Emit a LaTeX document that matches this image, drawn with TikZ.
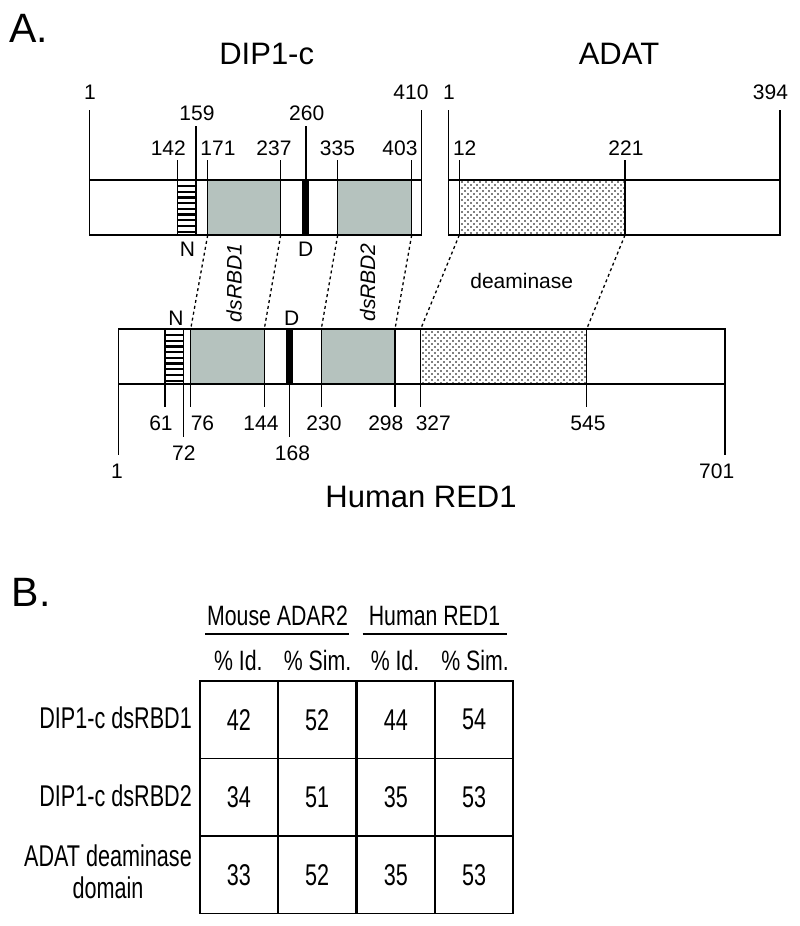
\documentclass[tikz,border=0pt]{standalone}
\usepackage{fontspec}
\setmainfont{Liberation Sans}
\newfontfamily\narrowfont{Liberation Sans}[FakeStretch=0.72]
\newfontfamily\narrowhdr{Liberation Sans}[FakeStretch=0.76]
\usepackage{xcolor}
\usetikzlibrary{patterns, positioning}

\definecolor{rbdgrey}{RGB}{181,194,190}

% staggered dot fill for the deaminase domain
\pgfdeclarepatternformonly{deamdots}{\pgfqpoint{-1pt}{-1pt}}{\pgfqpoint{4pt}{4pt}}{\pgfqpoint{6pt}{6pt}}{%
  \pgfpathcircle{\pgfqpoint{0pt}{0pt}}{0.9pt}%
  \pgfpathcircle{\pgfqpoint{3pt}{3pt}}{0.9pt}%
  \pgfusepath{fill}}

\begin{document}
\begin{tikzpicture}[
    x=1pt, y=-1pt,
    outline/.style={line width=1.5pt},
    tick/.style={line width=1.5pt},
    stripe/.style={line width=2.2pt},
    map/.style={line width=1.3pt, dash pattern=on 3pt off 3pt},
    dom/.style={fill=rbdgrey},
    deam/.style={pattern=deamdots},
    num/.style={font=\fontsize{21}{25}\selectfont, anchor=base, inner sep=0pt},
    ttl/.style={font=\fontsize{31}{36}\selectfont, anchor=base, inner sep=0pt},
    panel/.style={font=\fontsize{41}{48}\selectfont, anchor=base west, inner sep=0pt},
    hdr/.style={font=\narrowhdr\fontsize{28}{32}\selectfont, anchor=base, inner sep=0pt},
    rowlab/.style={font=\narrowfont\fontsize{30}{31.6}\selectfont, anchor=base east, inner sep=0pt},
    cell/.style={draw, line width=1.8pt, minimum width=78.3pt, minimum height=77.4pt, inner sep=0pt, font=\narrowfont\fontsize{30}{36}\selectfont},
]
    \useasboundingbox (0,0) rectangle (800,926);

    % Panel A -- titles
    \node[panel] (pa) at (9,42) {A.};
    \node[ttl] (dipttl) at (266.7,64) {DIP1-c};
    \node[ttl] (adatttl) at (619,64) {ADAT};

    % DIP1-c domains
    \fill[dom] (207.7,180) rectangle (280.7,235);
    \fill[dom] (337.7,180) rectangle (411.7,235);
    \fill (302,180) rectangle (309.3,235);
    \foreach \i in {0,...,8}
        \draw[stripe] (177.7,186+5.7*\i) -- (196,186+5.7*\i);
    \draw[outline] (89.3,180) rectangle (421.7,235);
    \foreach \x/\y in {89.3/110, 421.7/110, 196/126, 306/126, 177.7/160, 207.7/160, 280.7/160, 337.7/160, 411.7/160}
        \draw[tick] (\x,\y) -- (\x,235);

    % DIP1-c positions
    \node[num] (d1) at (90,99.3) {1};
    \node[num] (d410) at (411,99.3) {410};
    \node[num] (d159) at (197,120) {159};
    \node[num] (d260) at (306.7,120) {260};
    \node[num] (d142) at (168.3,155) {142};
    \node[num] (d171) at (218,155) {171};
    \node[num] (d237) at (274,155) {237};
    \node[num] (d335) at (337.5,155) {335};
    \node[num] (d403) at (400,155) {403};
    \node[num] (dN) at (187.5,256.7) {N};
    \node[num] (dD) at (305.8,256.7) {D};

    % ADAT
    \fill[deam] (459.3,180) rectangle (625,235);
    \draw[outline] (448.3,180) rectangle (780,235);
    \foreach \x/\y in {448.3/110, 780/110, 459.3/160, 625/160}
        \draw[tick] (\x,\y) -- (\x,235);
    \node[num] (a1) at (449,99.3) {1};
    \node[num] (a394) at (770.5,99.3) {394};
    \node[num] (a12) at (464.7,155) {12};
    \node[num] (a221) at (626,155) {221};

    % Human RED1 domains
    \fill[dom] (190.7,329) rectangle (264.3,384);
    \fill[dom] (321.3,329) rectangle (395,384);
    \fill (286,329) rectangle (292.7,384);
    \fill[deam] (420.7,329) rectangle (586.7,384);
    \foreach \i in {0,...,8}
        \draw[stripe] (165,335+5.7*\i) -- (183.3,335+5.7*\i);
    \draw[outline] (118.3,329) rectangle (725,384);
    \foreach \x/\y in {118.3/455, 725/455, 165/406.7, 183.3/436.7, 190.7/406.7, 264.3/406.7, 289.3/436.7, 321.3/406.7, 395/406.7, 420.7/406.7, 586.7/406.7}
        \draw[tick] (\x,329) -- (\x,\y);

    % Human RED1 positions
    \node[num] (rN) at (176,325) {N};
    \node[num] (rD) at (291.7,325) {D};
    \node[num] (r61) at (161,430) {61};
    \node[num] (r76) at (202.5,430) {76};
    \node[num] (r144) at (261,430) {144};
    \node[num] (r230) at (324,430) {230};
    \node[num] (r298) at (385.8,430) {298};
    \node[num] (r327) at (433.3,430) {327};
    \node[num] (r545) at (588,430) {545};
    \node[num] (r72) at (183.8,460) {72};
    \node[num] (r168) at (292.5,460) {168};
    \node[num] (r1) at (117,478.3) {1};
    \node[num] (r701) at (716.7,478.3) {701};
    \node[ttl] (redttl) at (421,507) {Human RED1};

    % domain names
    \node[num, anchor=center, rotate=90, font=\fontsize{21}{25}\selectfont\itshape] (rbd1) at (234,283) {dsRBD1};
    \node[num, anchor=center, rotate=90, font=\fontsize{21}{25}\selectfont\itshape] (rbd2) at (367.5,282.5) {dsRBD2};
    \node[num] (deamlab) at (521.7,288) {deaminase};

    % homology lines
    \coordinate (p171) at (207.7,235);
    \coordinate (p237) at (280.7,235);
    \coordinate (p335) at (337.7,235);
    \coordinate (p403) at (411.7,235);
    \coordinate (p12) at (459.3,235);
    \coordinate (p221) at (625,235);
    \coordinate (q76) at (190.7,329);
    \coordinate (q144) at (264.3,329);
    \coordinate (q230) at (321.3,329);
    \coordinate (q298) at (395,329);
    \coordinate (q327) at (420.7,329);
    \coordinate (q545) at (586.7,329);
    \draw[map] (p171) -- (q76);
    \draw[map] (p237) -- (q144);
    \draw[map] (p335) -- (q230);
    \draw[map] (p403) -- (q298);
    \draw[map] (p12) -- (q327);
    \draw[map] (p221) -- (q545);

    % Panel B -- table
    \node[panel] (pb) at (11.7,606.7) {B.};
    \node[hdr] (mouse) at (277.5,625) {Mouse ADAR2};
    \node[hdr] (human) at (434.5,625) {Human RED1};
    \draw[line width=1.5pt] (205,634) -- (349.3,634);
    \draw[line width=1.5pt] (362.7,634) -- (506.7,634);
    \node[hdr] (h1) at (238.3,670) {\% Id.};
    \node[hdr] (h2) at (317.5,670) {\% Sim.};
    \node[hdr] (h3) at (395,670) {\% Id.};
    \node[hdr] (h4) at (475,670) {\% Sim.};

    \node[rowlab] (row1) at (192,728.3) {DIP1-c dsRBD1};
    \node[rowlab] (row2) at (192,806.7) {DIP1-c dsRBD2};
    \node[rowlab, anchor=east, align=center] (row3) at (192,871.5) {ADAT deaminase\\domain};

    \node[cell] (c11) at (238.8,719.7) {42};
    \node[cell] (c12) at (317.2,719.7) {52};
    \node[cell] (c13) at (395.8,719.7) {44};
    \node[cell] (c14) at (474.2,719.7) {54};
    \node[cell] (c21) at (238.8,797.2) {34};
    \node[cell] (c22) at (317.2,797.2) {51};
    \node[cell] (c23) at (395.8,797.2) {35};
    \node[cell] (c24) at (474.2,797.2) {53};
    \node[cell] (c31) at (238.8,874.7) {33};
    \node[cell] (c32) at (317.2,874.7) {52};
    \node[cell] (c33) at (395.8,874.7) {35};
    \node[cell] (c34) at (474.2,874.7) {53};
\end{tikzpicture}
\end{document}
